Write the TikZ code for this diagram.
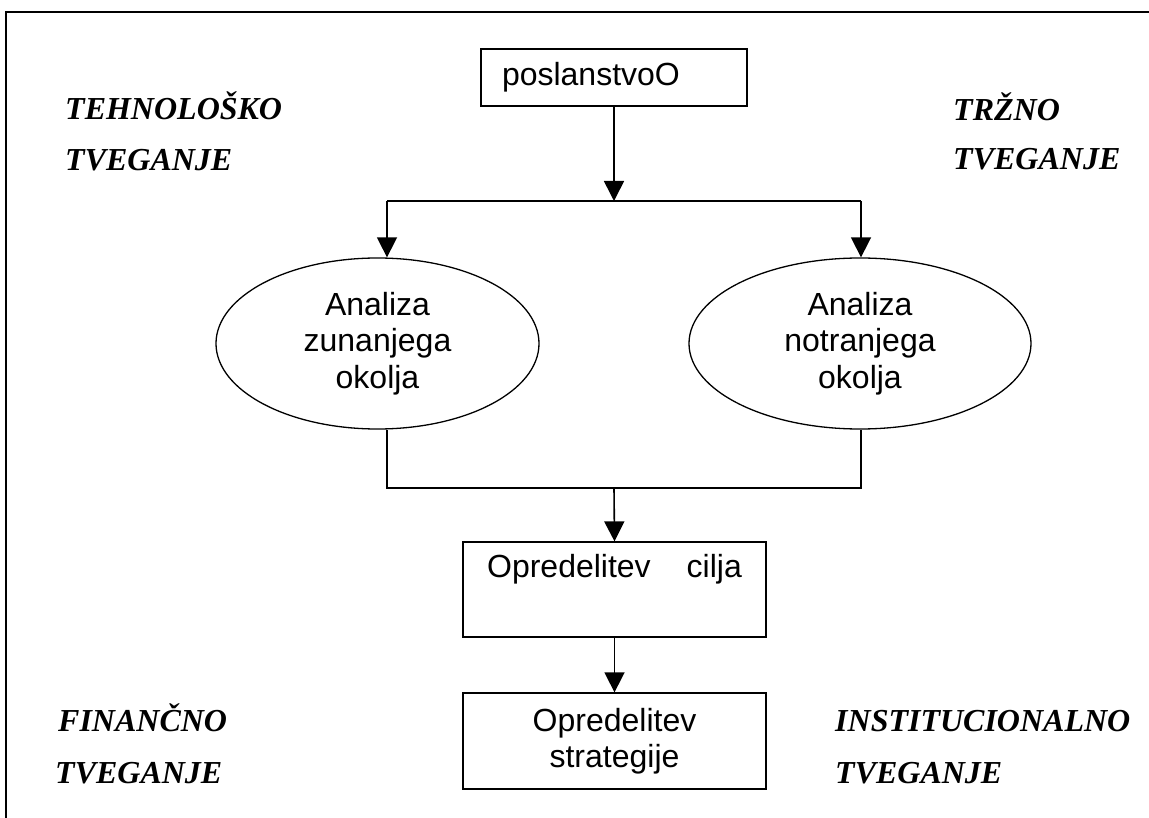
\documentclass[tikz,border=0pt]{standalone}
\usepackage{fontspec}
\setmainfont{Liberation Sans}
\newfontfamily\tnr{Liberation Serif}
\usetikzlibrary{shapes.geometric,arrows.meta}
\tikzset{
  conn/.style={line width=1.6pt, black},
  arr/.style={conn, -{Triangle[length=20pt,width=20pt]}},
  boxnode/.style={draw, line width=1.3pt, inner sep=0pt, font=\fontsize{32}{36.5}\selectfont, align=center},
  ellnode/.style={draw, ellipse, line width=1.3pt, inner sep=0pt, font=\fontsize{32}{36.5}\selectfont, align=center},
  risk/.style={anchor=base west, inner sep=0pt, font=\fontsize{32}{36}\tnr\bfseries\itshape}
}
\begin{document}
\begin{tikzpicture}[x=1pt,y=-1pt]
\useasboundingbox (0,0) rectangle (1149,818);
% outer frame (open on right and bottom)
\draw[line width=1.8pt] (6,818) -- (6,12) -- (1149,12);
% nodes
\node[boxnode, minimum height=57pt, text width=224pt, inner xsep=21pt, align=left] (top) at (614,77.5) {poslanstvoO};
\node[ellnode, minimum width=323pt, minimum height=171pt] (L) at (377.5,343.5) {Analiza\\zunanjega\\okolja};
\node[ellnode, minimum width=342pt, minimum height=171pt] (R) at (860,343.5) {Analiza\\notranjega\\okolja};
\node[boxnode, minimum width=303pt, minimum height=95pt] (C) at (614.5,589.5) {Opredelitev\hspace{36pt}cilja\\\strut};
\node[boxnode, minimum width=303pt, minimum height=96pt] (D) at (614.5,741) {Opredelitev\\strategije};
% risk labels
\node[risk] (t1) at (65,120) {TEHNOLOŠKO};
\node[risk] (t2) at (65,171) {TVEGANJE};
\node[risk] (m1) at (953,121) {TRŽNO};
\node[risk] (m2) at (953,170) {TVEGANJE};
\node[risk] (f1) at (58,731) {FINANČNO};
\node[risk] (f2) at (55,783) {TVEGANJE};
\node[risk] (i1) at (835,731) {INSTITUCIONALNO};
\node[risk] (i2) at (835,783) {TVEGANJE};
% connectors
\coordinate (split) at (614,201);
\coordinate (sl) at (387,201);
\coordinate (sr) at (861,201);
\coordinate (jl) at (387,488);
\coordinate (jr) at (861,488);
\coordinate (join) at (614,488);
\draw[arr] (top.south) -- (split);
\draw[conn] (sl) -- (sr);
\draw[line width=2.8pt] (406,201) -- (425,201);
\draw[arr] (sl) -- (sl |- L.north);
\draw[arr] (sr) -- (sr |- R.north);
\draw[conn] (jl |- L.south) -- (jl) -- (jr) -- (jr |- R.south);
\draw[arr] (join) -- (C.north);
\draw[arr] (C.south) -- (D.north);
\end{tikzpicture}
\end{document}
